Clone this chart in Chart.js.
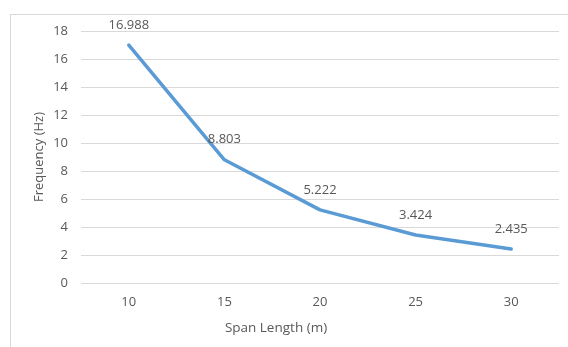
<!DOCTYPE html>
<html>
<head>
<meta charset="utf-8">
<script src="https://cdn.jsdelivr.net/npm/chart.js@4"></script>
<style>
  html, body { margin: 0; padding: 0; background: #ffffff; }
  #wrap { position: relative; width: 568px; height: 347px; overflow: hidden; }
  #frame { position: absolute; left: 10px; top: 14px; width: 620px; height: 400px; border: 1px solid #d9d9d9; box-sizing: border-box; }
  canvas { position: absolute; left: 0; top: 0; }
</style>
</head>
<body>
<div id="wrap">
  <div id="frame"></div>
  <canvas id="c" width="568" height="347"></canvas>
</div>
<script>
// Natural frequency against span length
const spanLengths = ['10', '15', '20', '25', '30'];
const frequencies = [16.988, 8.803, 5.222, 3.424, 2.435];
const xAxisTitle = 'Span Length (m)';

const textColor = '#595959';
const gridColor = '#d9d9d9';
const fontFamily = "'Open Sans', 'Liberation Sans', sans-serif";

// Writes each point's value just above it, and the category axis title
const valueLabels = {
  id: 'valueLabels',
  afterDatasetsDraw(chart) {
    const ctx = chart.ctx;
    const meta = chart.getDatasetMeta(0);
    ctx.save();
    ctx.font = '13px ' + fontFamily;
    ctx.fillStyle = textColor;
    ctx.textAlign = 'center';
    ctx.textBaseline = 'middle';
    meta.data.forEach((pt, i) => {
      ctx.fillText(frequencies[i].toFixed(3), pt.x, pt.y - 20);
    });
    ctx.font = '13.5px ' + fontFamily;
    ctx.fillText(xAxisTitle, chart.width / 2 - 8, 328);
    ctx.restore();
  }
};

new Chart(document.getElementById('c'), {
  type: 'line',
  data: {
    labels: spanLengths,
    datasets: [{
      data: frequencies,
      borderColor: '#5b9bd5',
      borderWidth: 3.5,
      borderJoinStyle: 'round',
      borderCapStyle: 'round',
      pointRadius: 0,
      tension: 0,
      fill: false
    }]
  },
  options: {
    responsive: false,
    animation: false,
    layout: { padding: { left: 0, right: 9, top: 31, bottom: 0 } },
    plugins: { legend: { display: false }, tooltip: { enabled: false } },
    scales: {
      x: {
        offset: true,
        grid: { display: false, drawTicks: false },
        border: { display: false },
        ticks: { color: textColor, font: { family: fontFamily, size: 13 }, padding: 11 },
        afterFit(scale) { scale.height = 64; }
      },
      y: {
        min: 0, max: 18,
        grid: { color: gridColor, lineWidth: 1, drawTicks: false },
        border: { display: false },
        ticks: { stepSize: 2, color: textColor, font: { family: fontFamily, size: 13 }, padding: 13 },
        title: {
          display: true, text: 'Frequency (Hz)', color: textColor,
          font: { family: fontFamily, size: 13 }, padding: { top: 31, bottom: 0 }
        },
        afterFit(scale) { scale.width = 81; }
      }
    }
  },
  plugins: [valueLabels]
});
</script>
</body>
</html>
